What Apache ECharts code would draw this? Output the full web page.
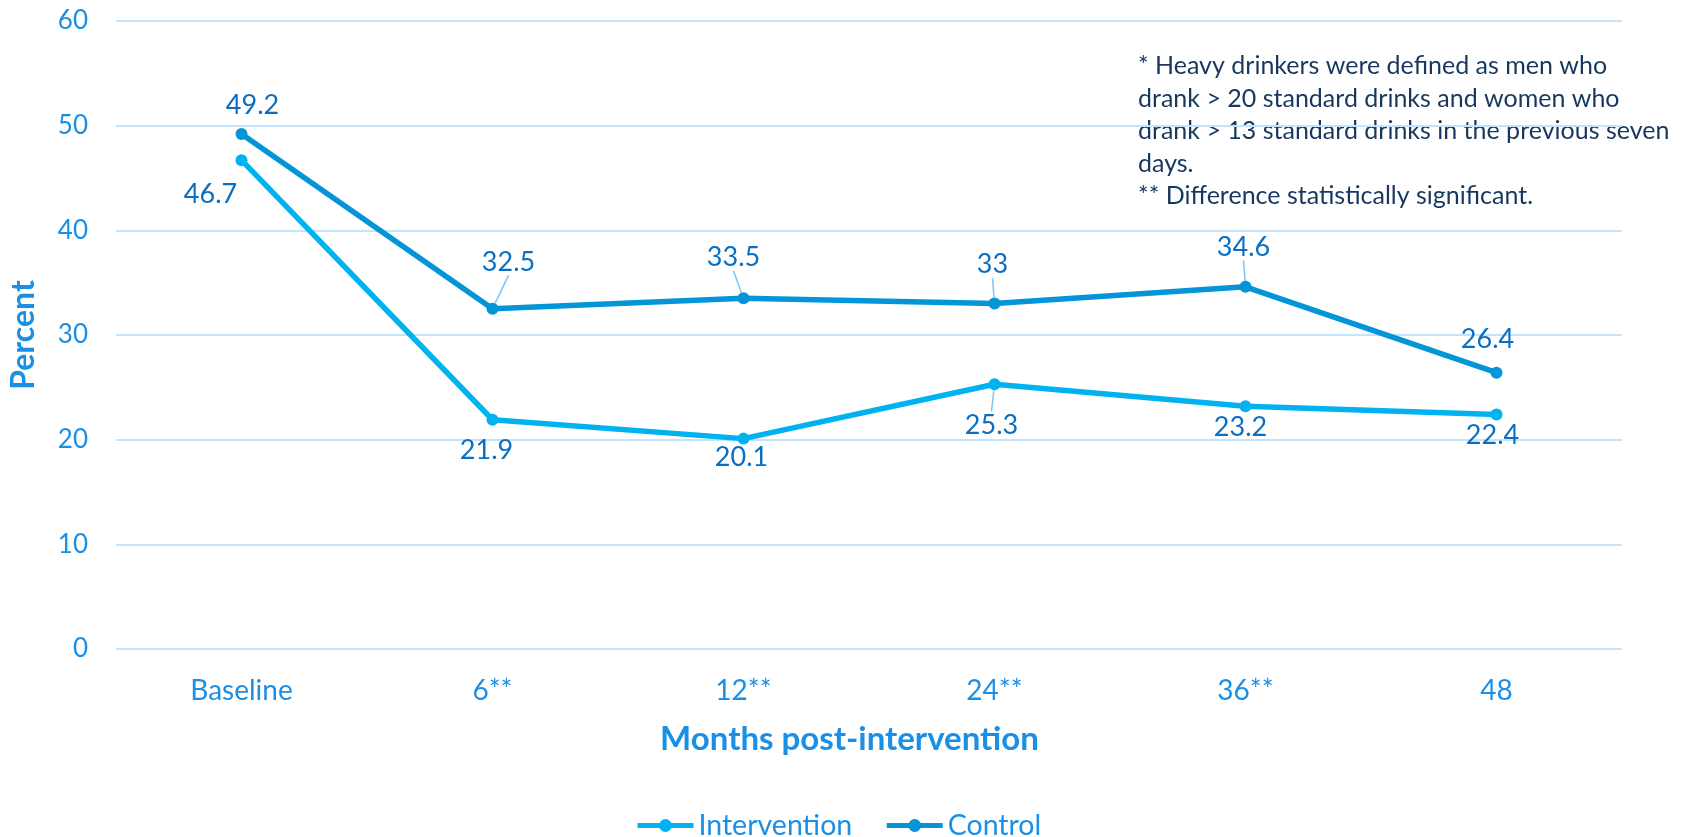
<!DOCTYPE html>
<html>
<head>
<meta charset="utf-8">
<script src="https://cdn.jsdelivr.net/npm/echarts@6/dist/echarts.min.js"></script>
<style>
html,body{margin:0;padding:0;background:#fff;}
#chart{width:1688px;height:837px;}
</style>
</head>
<body>
<div id="chart"></div>
<script>
const categories = ['Baseline', '6**', '12**', '24**', '36**', '48'];
const intervention = [46.7, 21.9, 20.1, 25.3, 23.2, 22.4];
const control = [49.2, 32.5, 33.5, 33, 34.6, 26.4];
const seriesNames = ['Intervention', 'Control'];
const xTitle = 'Months post-intervention';
const yTitle = 'Percent';
const note = [
  '* Heavy drinkers were defined as men who',
  'drank > 20 standard drinks and women who',
  'drank > 13 standard drinks in the previous seven',
  'days.',
  '** Difference statistically significant.'
];

// label placement (pixel offsets from the point) and which labels get a leader line
const interventionLabelOffsets = [[-31, 34], [-6, 31], [-2, 19], [-3, 41], [-5, 21], [-4, 21]];
const controlLabelOffsets = [[11, -29], [16, -47], [-10, -41], [-2, -39], [-2, -40], [-9, -33]];
const interventionLeader = [false, false, false, true, false, false];
const controlLeader = [false, true, true, true, true, false];

const FONT = 'Lato, "Open Sans", sans-serif';
const axisColor = '#1a8fe6';
const labelColor = '#0a6fc2';
const gridColor = '#c4e4fd';

function buildData(values, leaders) {
  return values.map((v, i) => ({
    value: v,
    labelLine: { show: leaders[i] }
  }));
}

const offsets = [interventionLabelOffsets, controlLabelOffsets];

const chart = echarts.init(document.getElementById('chart'), null, { renderer: 'canvas' });
chart.setOption({
  backgroundColor: '#ffffff',
  animation: false,
  grid: { left: 113, right: 66, top: 21, bottom: 188, containLabel: false },
  xAxis: {
    type: 'category',
    data: categories,
    boundaryGap: true,
    axisLine: { show: false },
    axisTick: { show: false },
    axisLabel: { color: axisColor, fontSize: 28, fontFamily: FONT, margin: 28 },
    splitLine: { show: false },
    name: xTitle,
    nameLocation: 'middle',
    nameGap: 74,
    nameTextStyle: { color: axisColor, fontSize: 33, fontWeight: 'bold', fontFamily: FONT, padding: [0, 39, 0, 0] }
  },
  yAxis: {
    type: 'value',
    min: 0, max: 60, interval: 10,
    axisLine: { show: false },
    axisTick: { show: false },
    axisLabel: { color: axisColor, fontSize: 26, fontFamily: FONT, margin: 28 },
    splitLine: { show: true, lineStyle: { color: gridColor, width: 2 } },
    name: yTitle,
    nameLocation: 'middle',
    nameGap: 76,
    nameRotate: 90,
    nameTextStyle: { color: axisColor, fontSize: 32, fontWeight: 'bold', fontFamily: FONT }
  },
  legend: {
    top: 806,
    left: 630,
    itemWidth: 56,
    itemHeight: 16,
    itemGap: 32,
    lineStyle: { width: 5 },
    textStyle: { color: axisColor, fontSize: 28.5, fontFamily: FONT },
    data: seriesNames
  },
  graphic: [{
    type: 'text',
    left: 1138,
    top: 50,
    style: {
      text: note.join('\n'),
      fill: '#17375e',
      font: '25px ' + FONT,
      lineHeight: 32.5
    }
  }],
  series: [
    {
      name: seriesNames[0],
      type: 'line',
      data: buildData(intervention, interventionLeader),
      color: '#00b2f0',
      lineStyle: { width: 5.5, color: '#00b2f0' },
      symbol: 'circle',
      symbolSize: 12,
      itemStyle: { color: '#00b2f0' },
      z: 3,
      label: { show: true, position: 'inside', color: labelColor, fontSize: 27, fontFamily: FONT },
      labelLine: { show: false, lineStyle: { color: '#7cc6f7', width: 1.5 } },
      labelLayout: function (p) { const o = offsets[0][p.dataIndex]; return { dx: o[0], dy: o[1] }; }
    },
    {
      name: seriesNames[1],
      type: 'line',
      data: buildData(control, controlLeader),
      color: '#0494d8',
      lineStyle: { width: 5.5, color: '#0494d8' },
      symbol: 'circle',
      symbolSize: 12,
      itemStyle: { color: '#0494d8' },
      z: 4,
      label: { show: true, position: 'inside', color: labelColor, fontSize: 27, fontFamily: FONT },
      labelLine: { show: false, lineStyle: { color: '#7cc6f7', width: 1.5 } },
      labelLayout: function (p) { const o = offsets[1][p.dataIndex]; return { dx: o[0], dy: o[1] }; }
    }
  ]
});
</script>
</body>
</html>
